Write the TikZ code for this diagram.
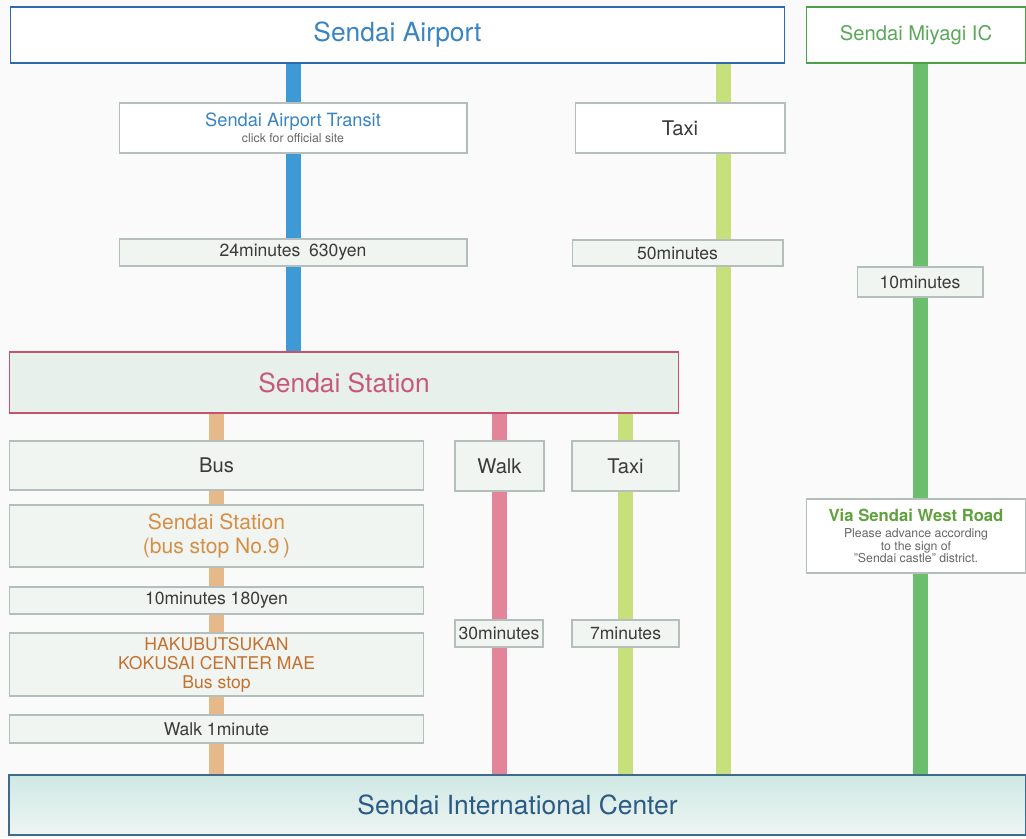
\documentclass[tikz,border=0pt]{standalone}
\usepackage{fontspec}
\setmainfont{TeX Gyre Heros}
\usepackage{xcolor}
\usetikzlibrary{backgrounds}

\definecolor{airblue}{HTML}{2C6AAE}
\definecolor{airtext}{HTML}{3A85BF}
\definecolor{bluebar}{HTML}{3E9AD5}
\definecolor{icgreen}{HTML}{4E9F4A}
\definecolor{ictext}{HTML}{5BA85A}
\definecolor{greenbar}{HTML}{6BBE6E}
\definecolor{limebar}{HTML}{C8E07C}
\definecolor{stapink}{HTML}{C4546E}
\definecolor{statext}{HTML}{C8587A}
\definecolor{stafill}{HTML}{E8F0EB}
\definecolor{pinkbar}{HTML}{E2849A}
\definecolor{orangebar}{HTML}{E6B98A}
\definecolor{stoptext}{HTML}{D58E45}
\definecolor{hakutext}{HTML}{C4702E}
\definecolor{sicblue}{HTML}{3F6A8C}
\definecolor{sictext}{HTML}{2B5A85}
\definecolor{sictop}{HTML}{CFE8E4}
\definecolor{sicbottom}{HTML}{EEF5F3}
\definecolor{viatext}{HTML}{5FA23C}
\definecolor{notegray}{HTML}{666666}
\definecolor{boxgray}{HTML}{B4BFBB}
\definecolor{boxfill}{HTML}{F1F5F2}
\definecolor{textgray}{HTML}{3A3A3A}
\definecolor{paper}{HTML}{F9FAF9}

\tikzset{
  stopbox/.style={draw=boxgray, fill=boxfill, line width=0.6pt, inner sep=0pt,
    align=center, text=textgray},
  bigtext/.style={font=\fontsize{15}{18}\selectfont},
  midtext/.style={font=\fontsize{11.5}{13}\selectfont},
  smalltext/.style={font=\fontsize{10}{11}\selectfont},
  bar/.style={line width=0.3cm},
}

\begin{document}
\begin{tikzpicture}[x=0.02cm,y=-0.02cm]
\useasboundingbox (0,0) rectangle (1026,838);

% top row
\node[stopbox, bigtext, draw=airblue, fill=white, text=airtext, minimum width=15.5cm, minimum height=1.12cm] (airport) at (397.5,35) {Sendai Airport};
\node[stopbox, draw=icgreen, fill=white, text=ictext, minimum width=4.4cm, minimum height=1.12cm, font=\fontsize{11.5}{13}\selectfont] (miyagi) at (916,35) {Sendai Miyagi IC};

% from the airport
\node[stopbox, fill=white, minimum width=6.96cm, minimum height=1cm, font=\fontsize{7}{8}\selectfont] (transit) at (293,128)
  {\fontsize{10.4}{12}\selectfont\color{airtext}Sendai Airport Transit\\[1pt]
   \color{notegray}click for official site};
\node[stopbox, midtext, fill=white, minimum width=4.2cm, minimum height=1cm] (taxiA) at (680,128) {Taxi};
\node[stopbox, smalltext, minimum width=6.96cm, minimum height=0.54cm] (fare) at (293,252.5) {24minutes\enspace 630yen};
\node[stopbox, smalltext, minimum width=4.22cm, minimum height=0.52cm] (fifty) at (677.5,253) {50minutes};
\node[stopbox, smalltext, minimum width=2.52cm, minimum height=0.6cm] (tenmin) at (920,282) {10minutes};

% Sendai Station
\node[stopbox, bigtext, draw=stapink, fill=stafill, text=statext, minimum width=13.4cm, minimum height=1.22cm] (station) at (344,382.5) {Sendai Station};

\node[stopbox, midtext, minimum width=8.3cm, minimum height=0.98cm] (bus) at (216.5,465.5) {Bus};
\node[stopbox, midtext, minimum width=1.78cm, minimum height=1cm] (walk) at (499.5,466) {Walk};
\node[stopbox, midtext, minimum width=2.14cm, minimum height=1cm] (taxiB) at (625.5,466) {Taxi};

\node[stopbox, text=stoptext, minimum width=8.3cm, minimum height=1.24cm, font=\fontsize{12}{13.5}\selectfont] (busstop) at (216.5,536) {Sendai Station\\(bus stop No.9\,)};
\node[stopbox, smalltext, minimum width=8.3cm, minimum height=0.54cm] (busfare) at (216.5,600.5) {10minutes 180yen};
\node[stopbox, smalltext, minimum width=1.76cm, minimum height=0.54cm] (thirty) at (499,633.5) {30minutes};
\node[stopbox, smalltext, minimum width=2.14cm, minimum height=0.54cm] (seven) at (625.5,633.5) {7minutes};
\node[stopbox, text=hakutext, minimum width=8.3cm, minimum height=1.26cm, font=\fontsize{10}{10.8}\selectfont] (haku) at (216.5,664.5) {HAKUBUTSUKAN\\KOKUSAI CENTER MAE\\Bus stop};
\node[stopbox, smalltext, minimum width=8.3cm, minimum height=0.56cm] (walkone) at (216.5,729) {Walk 1minute};

% Miyagi IC road
\node[stopbox, fill=white, text=notegray, minimum width=4.4cm, minimum height=1.48cm, font=\fontsize{7}{7.1}\selectfont] (via) at (916,536)
  {\fontsize{9.5}{11}\selectfont\bfseries\color{viatext}Via Sendai West Road\\[2pt]
   Please advance according\\to the sign of\\"Sendai castle" district.};

% destination
\node[stopbox, bigtext, draw=sicblue, top color=sictop, bottom color=sicbottom, text=sictext, line width=0.8pt, minimum width=20.34cm, minimum height=1.2cm] (center) at (517.5,805) {Sendai International Center};

\coordinate (taxiline) at (723,0);

\begin{pgfonlayer}{background}
  \fill[paper] (0,0) rectangle (1026,838);
  \draw[bar, bluebar] (airport.south -| transit) -- (station.north -| transit);
  \draw[bar, limebar] (airport.south -| taxiline) -- (center.north -| taxiline);
  \draw[bar, greenbar] (miyagi.south -| tenmin) -- (center.north -| tenmin);
  \draw[bar, orangebar] (station.south -| bus) -- (center.north -| bus);
  \draw[bar, pinkbar] (station.south -| walk) -- (center.north -| walk);
  \draw[bar, limebar] (station.south -| taxiB) -- (center.north -| taxiB);
\end{pgfonlayer}
\end{tikzpicture}
\end{document}
